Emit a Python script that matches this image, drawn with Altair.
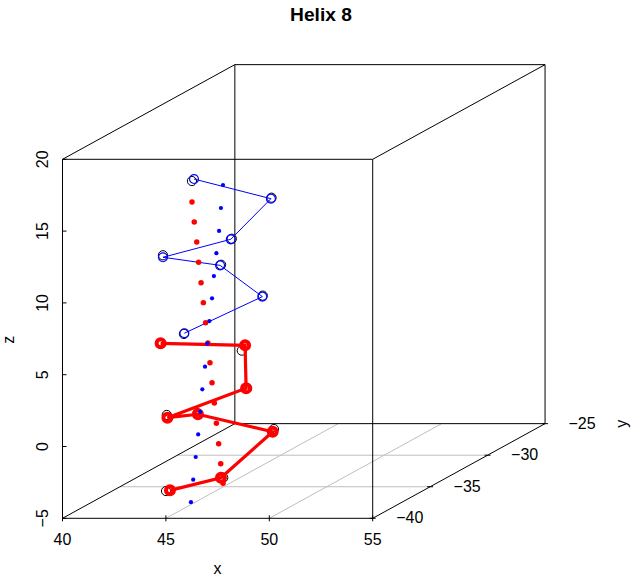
import altair as alt
import pandas as pd

TITLE = "Helix 8"
X_LIM = [40, 55]
Y_LIM = [-40, -25]
Z_LIM = [-5, 20]
X_TICKS = [40, 45, 50, 55]
Y_TICKS = [-40, -35, -30, -25]
Z_TICKS = [-5, 0, 5, 10, 15, 20]

# residue positions (black open circles)
atom_x = [42.37, 47.33, 46.52, 42.08, 43.78, 46.35, 43.65, 41.40, 44.78, 46.15, 42.82, 42.64, 46.89, 45.55, 43.34]
atom_y = [-33, -35, -37, -35, -33, -34, -36, -34, -33, -35, -36, -33, -34, -36, -37]
atom_z = [15.41, 15.13, 13.15, 11.12, 9.58, 7.87, 6.08, 4.52, 3.60, 1.86, 0.44, -0.76, -1.42, -3.93, -4.42]

# fitted positions (coloured circles joined by lines)
fit_x = [42.47, 47.30, 46.47, 42.08, 43.73, 46.33, 43.67, 41.41, 44.94, 46.10, 42.85, 42.66, 46.83, 45.44, 43.53]
fit_y = [-33, -35, -37, -35, -33, -34, -36, -34, -33, -35, -36, -33, -34, -36, -37]
fit_z = [15.55, 15.06, 13.11, 10.98, 9.54, 7.80, 6.13, 4.55, 3.97, 1.86, 0.25, -0.83, -1.61, -3.93, -4.37]
fit_part = ["blue"] * 7 + ["red"] * 8

# axis points, first estimate (blue dots)
axb_x = [46.65, 46.55, 46.46, 46.33, 46.21, 46.12, 45.99, 45.89, 45.78, 45.65, 45.55, 45.45, 45.33, 45.21, 45.10]
axb_y = [-38, -38, -38, -38, -38, -38, -38, -38, -38, -38, -38, -38, -38, -38, -38]
axb_z = [17.33, 15.73, 14.13, 12.58, 10.99, 9.44, 7.86, 6.28, 4.68, 3.10, 1.54, -0.04, -1.61, -3.19, -4.76]

# axis points, second estimate (red dots)
axr_x = [45.15, 45.26, 45.38, 45.47, 45.59, 45.70, 45.81, 45.92, 46.02, 46.12, 46.23, 46.33, 46.44, 46.54, 46.65]
axr_y = [-38, -38, -38, -38, -38, -38, -38, -38, -38, -38, -38, -38, -38, -38, -38]
axr_z = [16.15, 14.75, 13.36, 11.95, 10.53, 9.14, 7.74, 6.33, 4.96, 3.56, 2.15, 0.74, -0.68, -2.08, -3.44]

# ---- projection (scatterplot3d style oblique view) ----
W, H = 631, 578
PX_X, PX_Z = 20.68, 14.36      # pixels per x unit / z unit
Y_DX, Y_DY = 11.49, 6.31       # pixel shift per y unit
ORIGIN = (62.5, 518.3)         # pixel of (xmin, ymin, zmin)
FONT = "Liberation Sans"


def proj(x, y, z):
    t = y - Y_LIM[0]
    return x + t * Y_DX / PX_X, z + t * Y_DY / PX_Z


U_DOM = [X_LIM[0] - ORIGIN[0] / PX_X, X_LIM[0] + (W - ORIGIN[0]) / PX_X]
V_DOM = [Z_LIM[0] - (H - ORIGIN[1]) / PX_Z, Z_LIM[0] + ORIGIN[1] / PX_Z]


def U(f="u"):
    return alt.X(f"{f}:Q", scale=alt.Scale(domain=U_DOM, nice=False, zero=False), axis=None)


def V(f="v"):
    return alt.Y(f"{f}:Q", scale=alt.Scale(domain=V_DOM, nice=False, zero=False), axis=None)


def points_df(xs, ys, zs, extra=None):
    rows = []
    for i, (x, y, z) in enumerate(zip(xs, ys, zs)):
        u, v = proj(x, y, z)
        r = {"u": u, "v": v, "i": i}
        if extra is not None:
            r["part"] = extra[i]
        rows.append(r)
    return pd.DataFrame(rows)


def seg_df(segs):
    rows = []
    for a, b in segs:
        u, v = proj(*a)
        u2, v2 = proj(*b)
        rows.append({"u": u, "v": v, "u2": u2, "v2": v2})
    return pd.DataFrame(rows)


def rule_layer(df, color):
    return alt.Chart(df).mark_rule(color=color, strokeWidth=1).encode(
        x=U("u"), x2="u2:Q", y=V("v"), y2="v2:Q")


# grid on floor
grid_segs = [((xt, Y_LIM[0], Z_LIM[0]), (xt, Y_LIM[1], Z_LIM[0])) for xt in X_TICKS[1:-1]]
grid_segs += [((X_LIM[0], yt, Z_LIM[0]), (X_LIM[1], yt, Z_LIM[0])) for yt in Y_TICKS[1:-1]]

# box edges
lims = [X_LIM, Y_LIM, Z_LIM]
box_segs = []
for i in (0, 1):
    for j in (0, 1):
        for k in (0, 1):
            idx = [i, j, k]
            for ax in range(3):
                if idx[ax] == 0:
                    a = tuple(lims[d][idx[d]] for d in range(3))
                    nidx = list(idx)
                    nidx[ax] = 1
                    b = tuple(lims[d][nidx[d]] for d in range(3))
                    box_segs.append((a, b))

# tick marks
tick_rows = []
for xt in X_TICKS:
    u, v = proj(xt, Y_LIM[0], Z_LIM[0])
    tick_rows.append({"u": u, "v": v - 3 / PX_Z, "u2": u, "v2": v + 3 / PX_Z})
for zt in Z_TICKS:
    u, v = proj(X_LIM[0], Y_LIM[0], zt)
    tick_rows.append({"u": u, "v": v, "u2": u + 4 / PX_X, "v2": v})
for yt in Y_TICKS:
    u, v = proj(X_LIM[1], yt, Z_LIM[0])
    tick_rows.append({"u": u - 3 / PX_X, "v": v, "u2": u + 3 / PX_X, "v2": v})
ticks_df = pd.DataFrame(tick_rows)


def lab(t):
    return str(t).replace("-", "\u2212")


xlab = pd.DataFrame([dict(zip(("u", "v"), proj(t, Y_LIM[0], Z_LIM[0])), label=lab(t)) for t in X_TICKS])
zlab = pd.DataFrame([dict(zip(("u", "v"), proj(X_LIM[0], Y_LIM[0], t)), label=lab(t)) for t in Z_TICKS])
ylab = pd.DataFrame([dict(zip(("u", "v"), proj(X_LIM[1], t, Z_LIM[0])), label=lab(t)) for t in Y_TICKS])

txt = dict(font=FONT, fontSize=16, color="black", align="center", baseline="alphabetic")

layers = []
layers.append(rule_layer(seg_df(grid_segs), "#BEBEBE"))
layers.append(rule_layer(seg_df(box_segs), "black"))
layers.append(rule_layer(ticks_df, "black"))
layers.append(alt.Chart(xlab).mark_text(yOffset=26.7, **txt).encode(x=U(), y=V(), text="label:N"))
layers.append(alt.Chart(zlab).mark_text(angle=270, xOffset=-14.2, **txt).encode(x=U(), y=V(), text="label:N"))
layers.append(alt.Chart(ylab).mark_text(xOffset=37, yOffset=5, **txt).encode(x=U(), y=V(), text="label:N"))

xt_df = pd.DataFrame([dict(zip(("u", "v"), proj(sum(X_LIM) / 2, Y_LIM[0], Z_LIM[0])), label="x")])
zt_df = pd.DataFrame([dict(zip(("u", "v"), proj(X_LIM[0], Y_LIM[0], sum(Z_LIM) / 2)), label="z")])
yt_df = pd.DataFrame([dict(zip(("u", "v"), proj(X_LIM[1], Y_LIM[1], Z_LIM[0])), label="y")])
layers.append(alt.Chart(xt_df).mark_text(yOffset=55.7, **txt).encode(x=U(), y=V(), text="label:N"))
layers.append(alt.Chart(zt_df).mark_text(angle=270, xOffset=-48.5, yOffset=1, **txt).encode(x=U(), y=V(), text="label:N"))
layers.append(alt.Chart(yt_df).mark_text(angle=270, xOffset=82.3, **txt).encode(x=U(), y=V(), text="label:N"))

# title
layers.append(alt.Chart(pd.DataFrame([{"label": TITLE}])).mark_text(
    font=FONT, fontSize=19.2, fontWeight="bold", align="center", baseline="alphabetic", color="black"
).encode(x=alt.value(321), y=alt.value(20.7), text="label:N"))

atoms = points_df(atom_x, atom_y, atom_z)
fit = points_df(fit_x, fit_y, fit_z, fit_part)
fit_blue = fit[fit["part"] == "blue"]
fit_red = fit[fit["part"] == "red"]
axb = points_df(axb_x, axb_y, axb_z)
axr = points_df(axr_x, axr_y, axr_z)

layers.append(alt.Chart(atoms).mark_point(shape="circle", filled=False, size=85, strokeWidth=1,
                                          color="black", opacity=1).encode(x=U(), y=V()))
layers.append(alt.Chart(fit_blue).mark_line(color="#0000FF", strokeWidth=1).encode(
    x=U(), y=V(), order="i:Q"))
layers.append(alt.Chart(fit_blue).mark_point(shape="circle", filled=False, size=80, strokeWidth=1.2,
                                             color="#0000FF", opacity=1).encode(x=U(), y=V()))
layers.append(alt.Chart(fit_red).mark_line(color="#FF0000", strokeWidth=3.2).encode(
    x=U(), y=V(), order="i:Q"))
layers.append(alt.Chart(fit_red).mark_point(shape="circle", filled=False, size=64, strokeWidth=4,
                                            color="#FF0000", opacity=1).encode(x=U(), y=V()))
layers.append(alt.Chart(axr).mark_point(shape="circle", filled=True, size=30, strokeWidth=0,
                                        color="#FF0000", opacity=1).encode(x=U(), y=V()))
layers.append(alt.Chart(axb).mark_point(shape="circle", filled=True, size=18, strokeWidth=0,
                                        color="#0000FF", opacity=1).encode(x=U(), y=V()))

chart = alt.layer(*layers).properties(
    width=W, height=H, padding=0, autosize=alt.AutoSizeParams(type="none"), background="white"
).configure_view(stroke=None)

chart.save("out.html", embed_options={"renderer": "svg", "actions": False})
